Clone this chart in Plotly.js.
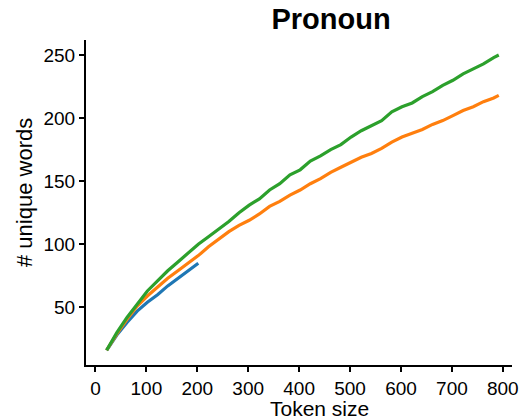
<!DOCTYPE html>
<html>
<head>
<meta charset="utf-8">
<script src="https://cdn.plot.ly/plotly-3.0.1.min.js"></script>
<style>html,body{margin:0;padding:0;background:#fff;}#chart{width:529px;height:420px;}</style>
</head>
<body>
<div id="chart"></div>
<script>
// Token sizes (x) and number of unique words (y) per series
const tokensShort = [22, 42, 62, 82, 102, 122, 142, 162, 182, 202];
const tokensLong = [22, 42, 62, 82, 102, 122, 142, 162, 182, 202, 222, 242, 262, 282, 302, 322, 342, 362, 382, 402,
                    422, 442, 462, 482, 502, 522, 542, 562, 582, 602, 622, 642, 662, 682, 702, 722, 742, 762, 782, 792];
const blueValues = [16, 28, 38, 47, 54, 60, 67, 73, 79, 85];
const orangeValues = [16, 29, 40.5, 51, 59, 66, 73, 79, 85, 91, 98, 104, 110, 115, 119, 124, 130, 134, 139, 143,
                      148, 152, 157, 161, 165, 169, 172, 176, 181, 185, 188, 191, 195, 198, 202, 206, 209, 213, 216, 218];
const greenValues = [16, 30, 42, 53, 63, 71, 79, 86, 93, 100, 106, 112, 118, 125, 131, 136, 143, 148, 155, 159,
                     166, 170, 175, 179, 185, 190, 194, 198, 205, 209, 212, 217, 221, 226, 230, 235, 239, 243, 248, 250];
const xTickVals = [0, 100, 200, 300, 400, 500, 600, 700, 800];
const yTickVals = [50, 100, 150, 200, 250];
const titleText = 'Pronoun';
const xLabel = 'Token size';
const yLabel = '# unique words';

const font = 'Liberation Sans, Arial, Helvetica, sans-serif';
const traces = [
  {x: tokensShort, y: blueValues, mode: 'lines', line: {color: '#1f77b4', width: 3.2}, hoverinfo: 'skip'},
  {x: tokensLong, y: orangeValues, mode: 'lines', line: {color: '#ff7f0e', width: 3.2}, hoverinfo: 'skip'},
  {x: tokensLong, y: greenValues, mode: 'lines', line: {color: '#2ca02c', width: 3.2}, hoverinfo: 'skip'}
];
const layout = {
  width: 529, height: 420,
  margin: {l: 86, r: 17, t: 40, b: 55, pad: 0},
  paper_bgcolor: '#fff', plot_bgcolor: '#fff',
  showlegend: false,
  font: {family: font, color: '#000'},
  title: {text: '<b>' + titleText + '</b>', font: {family: font, size: 29, color: '#000'},
          x: 331 / 529, xref: 'container', xanchor: 'center', y: 1 - 9 / 420, yref: 'container', yanchor: 'top'},
  xaxis: {
    range: [-18.5, 818], tickvals: xTickVals, ticks: 'outside', ticklen: 5, tickwidth: 2, tickcolor: '#000',
    showline: true, linecolor: '#000', linewidth: 2, showgrid: false, zeroline: false,
    tickfont: {family: font, size: 19, color: '#000'}, title: {text: ''}
  },
  yaxis: {
    range: [4.3, 261.9], tickvals: yTickVals, ticks: 'outside', ticklen: 5, tickwidth: 2, tickcolor: '#000',
    showline: true, linecolor: '#000', linewidth: 2, showgrid: false, zeroline: false,
    tickfont: {family: font, size: 19, color: '#000'}, title: {text: ''}
  },
  annotations: [
    {text: xLabel, xref: 'paper', yref: 'paper', x: (319 - 86) / 426, y: 0, yshift: -30, xanchor: 'center', yanchor: 'top',
     showarrow: false, font: {family: font, size: 21, color: '#000'}},
    {text: yLabel, xref: 'paper', yref: 'paper', x: 0, y: (365 - 193) / 325, xshift: -61, xanchor: 'center', yanchor: 'middle',
     textangle: -90, showarrow: false, font: {family: font, size: 22, color: '#000'}}
  ]
};
Plotly.newPlot('chart', traces, layout, {staticPlot: true, displayModeBar: false});
</script>
</body>
</html>
